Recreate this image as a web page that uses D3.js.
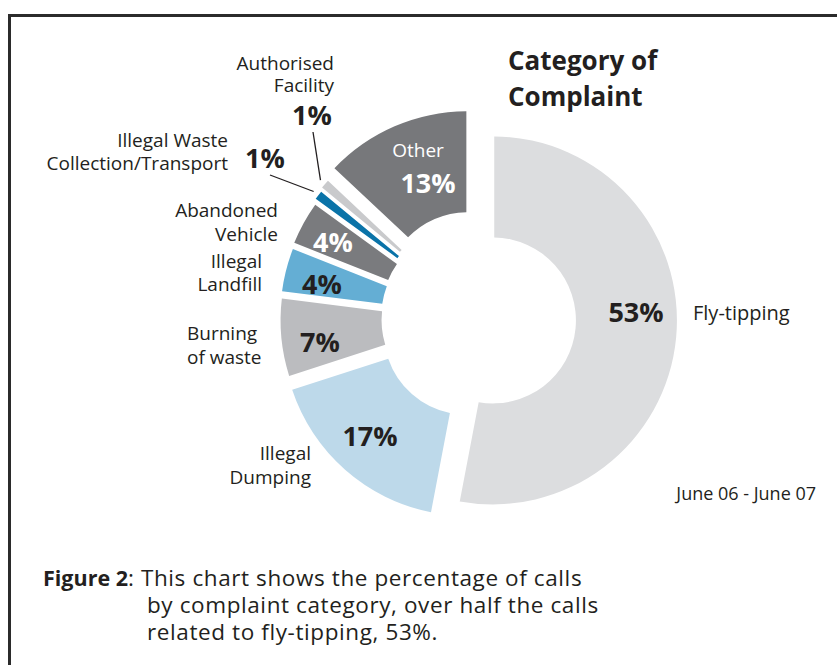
<!DOCTYPE html>
<html>
<head>
<meta charset="utf-8">
<script src="https://cdn.jsdelivr.net/npm/d3@7/dist/d3.min.js"></script>
<style>
  body { margin: 0; background: #fff; }
  svg { display: block; font-family: "Open Sans", "Noto Sans", sans-serif; }
</style>
</head>
<body>
<svg id="chart" width="837" height="665"></svg>
<script>
// categories, clockwise from 12 o'clock
var categories = ["Fly-tipping", "Illegal Dumping", "Burning of waste", "Illegal Landfill",
  "Abandoned Vehicle", "Illegal Waste Collection/Transport", "Authorised Facility", "Other"];
var values = [53, 17, 7, 4, 4, 1, 1, 13];
var labelLines = [["Fly-tipping"], ["Illegal", "Dumping"], ["Burning", "of waste"], ["Illegal", "Landfill"],
  ["Abandoned", "Vehicle"], ["Illegal Waste", "Collection/Transport"], ["Authorised", "Facility"], ["Other"]];
var title = ["Category of", "Complaint"];
var period = "June 06 - June 07";
var caption = ["This chart shows the percentage of calls",
  "by complaint category, over half the calls",
  "related to fly-tipping, 53%."];

// styles / layout
var colors = ["#dcdddf", "#bdd9ea", "#bbbcbf", "#64aed4", "#7a7b7e", "#0a73a8", "#c9cacc", "#77787b"];
var pctColor = ["#231f20", "#231f20", "#231f20", "#231f20", "#fff", "#231f20", "#231f20", "#fff"];
var explode = [15, 17, 13.5, 14, 15, 18, 20, 26];
// percentage text: centre x, baseline y
var pctPos = [[636, 322], [370, 446], [320, 352], [322, 294], [333, 252], [265, 168], [312, 125], [428, 193]];
// outside label: anchor x, first baseline, anchor, line step
var labPos = [[693, 320, "start", 23.5], [311, 460, "end", 23.5], [187, 340, "start", 23.5], [262, 268, "end", 23],
  [278, 217, "end", 23.5], [228, 147, "end", 23], [334, 70, "end", 22], [418, 157, "middle", 23]];
// leader line starts (for the 1% slices)
var leaderFrom = { 5: [270, 175], 6: [313, 132] };

var cx = 478, cy = 319, innerR = 83, outerR = 184;

var svg = d3.select("#chart");

// frame
svg.append("path")
  .attr("d", "M9.5,700V15.5H900")
  .attr("fill", "none")
  .attr("stroke", "#2b2b2b")
  .attr("stroke-width", 3);

var data = categories.map(function (c, i) { return { name: c, value: values[i], i: i }; });

var pie = d3.pie().sort(null).value(function (d) { return d.value; });
var arc = d3.arc().innerRadius(innerR).outerRadius(outerR).padAngle(0.013);

var arcs = pie(data);

function sliceCenter(a) {
  var mid = (a.startAngle + a.endAngle) / 2, e = explode[a.data.i];
  return [cx + e * Math.sin(mid), cy - e * Math.cos(mid)];
}

svg.append("g").selectAll("path")
  .data(arcs)
  .enter().append("path")
  .attr("transform", function (d) { var c = sliceCenter(d); return "translate(" + c[0] + "," + c[1] + ")"; })
  .attr("d", arc)
  .attr("fill", function (d) { return colors[d.data.i]; });

// leader lines
Object.keys(leaderFrom).forEach(function (k) {
  var a = arcs[+k], c = sliceCenter(a), mid = (a.startAngle + a.endAngle) / 2;
  var r = outerR + 6;
  svg.append("line")
    .attr("x1", leaderFrom[k][0]).attr("y1", leaderFrom[k][1])
    .attr("x2", c[0] + r * Math.sin(mid)).attr("y2", c[1] - r * Math.cos(mid))
    .attr("stroke", "#231f20").attr("stroke-width", 1.3);
});

// percentages
svg.append("g").selectAll("text")
  .data(arcs)
  .enter().append("text")
  .attr("x", function (d) { return pctPos[d.data.i][0]; })
  .attr("y", function (d) { return pctPos[d.data.i][1]; })
  .attr("text-anchor", "middle")
  .attr("font-size", 27)
  .attr("font-weight", 700)
  .attr("fill", function (d) { return pctColor[d.data.i]; })
  .text(function (d) { return d.data.value + "%"; });

// category labels
data.forEach(function (d) {
  var p = labPos[d.i];
  var t = svg.append("text")
    .attr("x", p[0]).attr("y", p[1])
    .attr("text-anchor", p[2])
    .attr("font-size", d.i == 0 ? 20 : 19)
    .attr("fill", d.i == 7 ? "#fff" : "#231f20");
  labelLines[d.i].forEach(function (s, j) {
    t.append("tspan").attr("x", p[0]).attr("dy", j == 0 ? 0 : p[3]).text(s);
  });
});

// title
svg.append("text")
  .attr("x", 508).attr("y", 70)
  .attr("font-size", 26).attr("font-weight", 700).attr("fill", "#231f20")
  .selectAll("tspan").data(title).enter().append("tspan")
  .attr("x", 508).attr("dy", function (d, i) { return i == 0 ? 0 : 36; })
  .text(function (d) { return d; });

svg.append("text")
  .attr("x", 816).attr("y", 500)
  .attr("text-anchor", "end")
  .attr("font-size", 18).attr("fill", "#231f20")
  .text(period);

// caption
var cap = svg.append("text")
  .attr("x", 43).attr("y", 586)
  .attr("font-size", 22.5).attr("letter-spacing", 0.6).attr("fill", "#231f20");
cap.append("tspan").attr("font-weight", 700).attr("font-size", 21.5).attr("letter-spacing", 0).text("Figure 2");
cap.append("tspan").text(": " + caption[0]);
caption.slice(1).forEach(function (s, j) {
  svg.append("text")
    .attr("x", 147).attr("y", 586 + 27 * (j + 1))
    .attr("font-size", 22.5).attr("letter-spacing", 0.6).attr("fill", "#231f20")
    .text(s);
});
</script>
</body>
</html>
